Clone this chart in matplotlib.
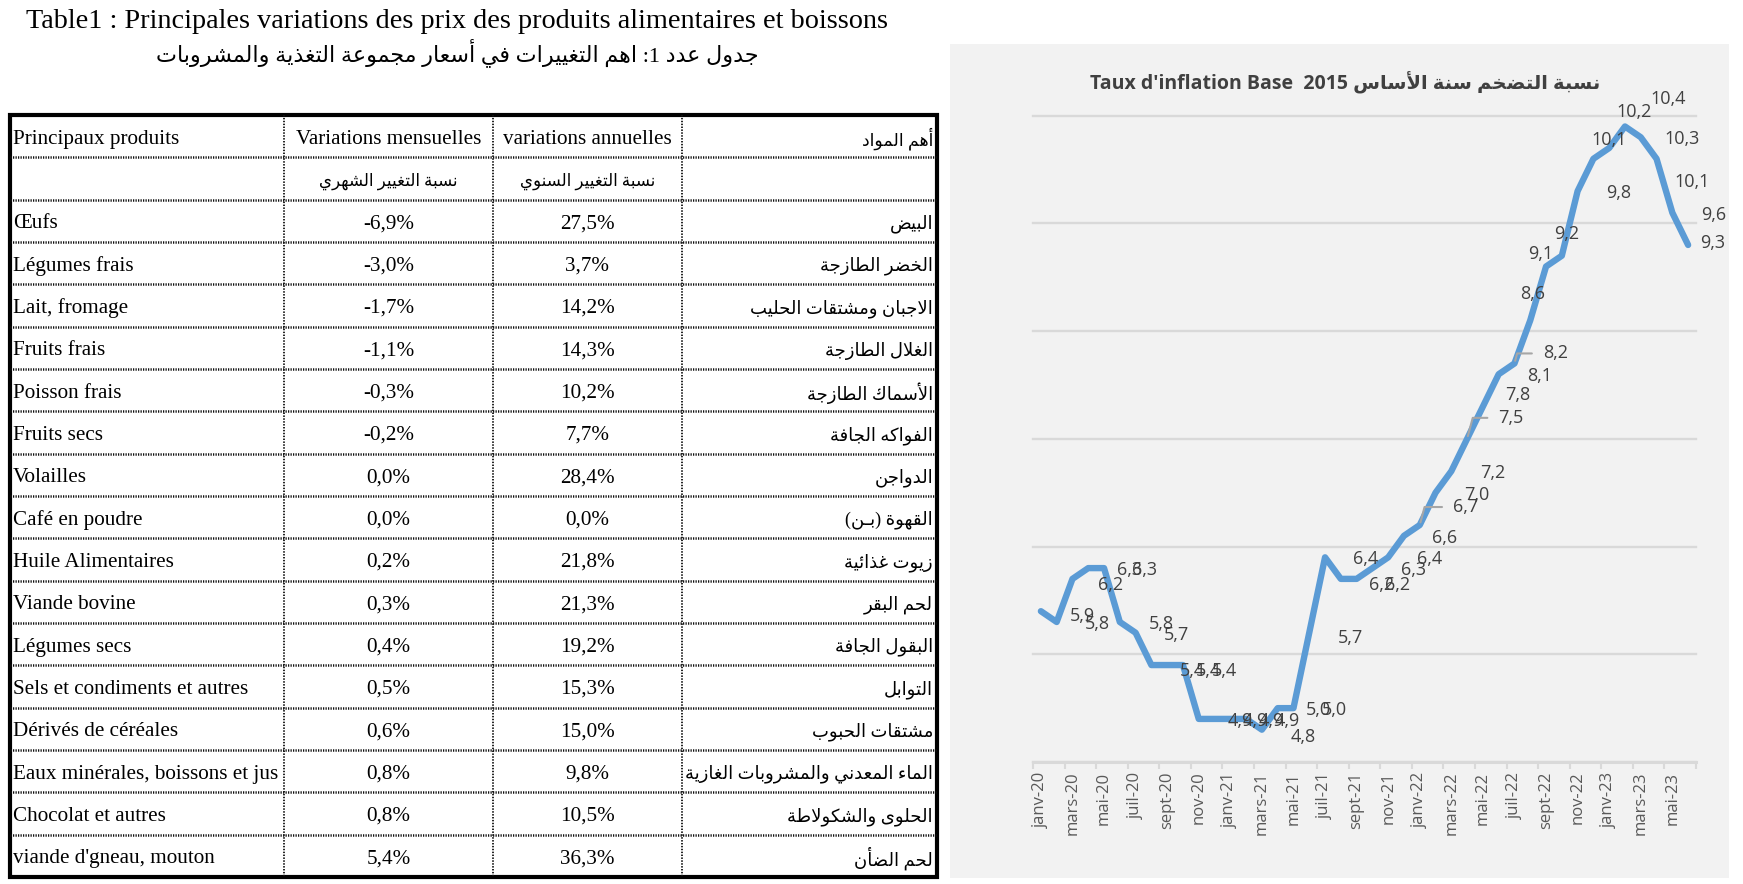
import re
import matplotlib
matplotlib.use("Agg")
import matplotlib.pyplot as plt
from matplotlib.patches import Rectangle

# ---------------- data ----------------
months = ["janv-20", "févr-20", "mars-20", "avr-20", "mai-20", "juin-20",
          "juil-20", "août-20", "sept-20", "oct-20", "nov-20", "déc-20",
          "janv-21", "févr-21", "mars-21", "avr-21", "mai-21", "juin-21",
          "juil-21", "août-21", "sept-21", "oct-21", "nov-21", "déc-21",
          "janv-22", "févr-22", "mars-22", "avr-22", "mai-22", "juin-22",
          "juil-22", "août-22", "sept-22", "oct-22", "nov-22", "déc-22",
          "janv-23", "févr-23", "mars-23", "avr-23", "mai-23", "juin-23"]
inflation = [5.9, 5.8, 6.2, 6.3, 6.3, 5.8, 5.7, 5.4, 5.4, 5.4, 4.9, 4.9,
             4.9, 4.9, 4.8, 5.0, 5.0, 5.7, 6.4, 6.2, 6.2, 6.3, 6.4, 6.6,
             6.7, 7.0, 7.2, 7.5, 7.8, 8.1, 8.2, 8.6, 9.1, 9.2, 9.8, 10.1,
             10.2, 10.4, 10.3, 10.1, 9.6, 9.3]

products_fr = ["Œufs", "Légumes frais", "Lait, fromage", "Fruits frais",
               "Poisson frais", "Fruits secs", "Volailles", "Café en poudre",
               "Huile Alimentaires", "Viande bovine", "Légumes secs",
               "Sels et condiments et autres", "Dérivés de céréales",
               "Eaux minérales, boissons et jus", "Chocolat et autres",
               "viande d'gneau, mouton"]
products_ar = ["البيض", "الخضر الطازجة", "الاجبان ومشتقات الحليب", "الغلال الطازجة",
               "الأسماك الطازجة", "الفواكه الجافة", "الدواجن", "القهوة (بـن)",
               "زيوت غذائية", "لحم البقر", "البقول الجافة", "التوابل",
               "مشتقات الحبوب", "الماء المعدني والمشروبات الغازية",
               "الحلوى والشكولاطة", "لحم الضأن"]
var_mensuelle = [-6.9, -3.0, -1.7, -1.1, -0.3, -0.2, 0.0, 0.0, 0.2, 0.3,
                 0.4, 0.5, 0.6, 0.8, 0.8, 5.4]
var_annuelle = [27.5, 3.7, 14.2, 14.3, 10.2, 7.7, 28.4, 0.0, 21.8, 21.3,
                19.2, 15.3, 15.0, 9.8, 10.5, 36.3]

title_fr = "Table1 : Principales variations des prix des produits alimentaires et boissons"
title_ar = "جدول عدد 1: اهم التغييرات في أسعار مجموعة التغذية والمشروبات"
head_fr = ["Principaux produits", "Variations mensuelles", "variations annuelles"]
head_ar = ["أهم المواد", "نسبة التغيير الشهري", "نسبة التغيير السنوي"]
chart_title_fr = "Taux d'inflation Base  2015 "
chart_title_ar = "نسبة التضخم سنة الأساس"

# label offsets (pixels) where Excel moved the data labels
label_offsets = {0: (41, -5), 2: (38, -6), 7: (41, -6), 8: (41, -6), 9: (41, -6),
                 14: (41, -7), 17: (41, -5), 19: (41, -6), 20: (41, -6),
                 24: (46, 18), 27: (44, 21), 28: (35, 12), 30: (41, 10),
                 31: (2, 26), 32: (-5, 13), 33: (5, 22), 35: (16, 19),
                 36: (25, 36), 37: (43, 27), 39: (36, -23), 41: (25, 2)}
leader_idx = [24, 27, 30]

# ---------------- arabic shaping (no bidi lib available) ----------------
_codes = list(range(0x621, 0x63B)) + list(range(0x641, 0x64B))
_nforms = [1, 2, 2, 2, 2, 4, 2, 4, 2, 4, 4, 4, 4, 4, 2, 2, 2, 2, 4, 4, 4, 4,
           4, 4, 4, 4, 4, 4, 4, 4, 4, 4, 4, 2, 2, 4]
FORMS = {}
_start = 0xFE80
for c, n in zip(_codes, _nforms):
    FORMS[chr(c)] = (_start, n)
    _start += n
TATWEEL = "\u0640"
LAM_ALEF = {"\u0622": 0xFEF5, "\u0623": 0xFEF7, "\u0625": 0xFEF9, "\u0627": 0xFEFB}


def joins_forward(ch):
    return ch == TATWEEL or (ch in FORMS and FORMS[ch][1] == 4)


def joins_back(ch):
    return ch == TATWEEL or (ch in FORMS and FORMS[ch][1] >= 2)


def ar(text):
    out = []
    i = 0
    while i < len(text):
        ch = text[i]
        prev = text[i - 1] if i > 0 else ""
        nxt = text[i + 1] if i + 1 < len(text) else ""
        linked = joins_forward(prev) and joins_back(ch)
        if ch == "\u0644" and nxt in LAM_ALEF:
            out.append(chr(LAM_ALEF[nxt] + (1 if linked else 0)))
            i += 2
            continue
        if ch in FORMS:
            base, k = FORMS[ch]
            nxt_link = joins_forward(ch) and joins_back(nxt)
            if k == 1:
                form = 0
            elif linked and nxt_link:
                form = 3
            elif linked:
                form = 1
            elif nxt_link:
                form = 2
            else:
                form = 0
            out.append(chr(base + form))
        else:
            out.append(ch)
        i += 1
    s = "".join(out)[::-1]
    s = s.translate(str.maketrans("()", ")("))
    return re.sub(r"[0-9]+", lambda m: m.group(0)[::-1], s)


def pct(v):
    return f"{v:.1f}%".replace(".", ",")


# ---------------- figure ----------------
W, H = 1743, 884
fig = plt.figure(figsize=(W / 100, H / 100), dpi=100)
fig.patch.set_facecolor("white")

base = fig.add_axes([0, 0, 1, 1])
base.set_xlim(0, W)
base.set_ylim(H, 0)
base.axis("off")

serif = ["Liberation Serif", "DejaVu Sans"]
sans = ["Open Sans", "DejaVu Sans"]

# chart panel background
base.add_patch(Rectangle((950, 44), 779, 834, facecolor="#F2F2F2", edgecolor="none"))

# table titles
base.text(457, 22, title_fr, ha="center", va="center", fontsize=20.3, family=serif)
base.text(457, 53, ar(title_ar), ha="center", va="center", fontsize=16, family=serif)

# table grid
col_x = [10, 284, 493, 682, 937]
top, row_h = 115, 42.33
n_rows = len(products_fr) + 2
bottom = top + n_rows * row_h
for k in range(1, n_rows):
    y = top + k * row_h
    base.plot([col_x[0], col_x[-1]], [y, y], color="#111111", lw=1.8,
              ls=(0, (0.5, 0.5)))
for x in col_x[1:-1]:
    base.plot([x, x], [top, bottom], color="#111111", lw=1.3, ls=(0, (0.8, 0.8)))
base.add_patch(Rectangle((col_x[0], top), col_x[-1] - col_x[0], bottom - top,
                         fill=False, edgecolor="black", lw=3))

c2 = (col_x[1] + col_x[2]) / 2
c3 = (col_x[2] + col_x[3]) / 2
fs = 15.2
fs_ar = 13
dy = 3
y0 = top + row_h / 2 + dy
base.text(13, y0, head_fr[0], ha="left", va="center", fontsize=fs, family=serif)
base.text(c2, y0, head_fr[1], ha="center", va="center", fontsize=fs, family=serif)
base.text(c3, y0, head_fr[2], ha="center", va="center", fontsize=fs, family=serif)
base.text(933, y0, ar(head_ar[0]), ha="right", va="center", fontsize=12.5, family=serif)
y1 = top + 1.5 * row_h + dy
base.text(c2, y1, ar(head_ar[1]), ha="center", va="center", fontsize=12, family=serif)
base.text(c3, y1, ar(head_ar[2]), ha="center", va="center", fontsize=12, family=serif)

for i, (fr, a, vm, va_) in enumerate(zip(products_fr, products_ar,
                                         var_mensuelle, var_annuelle)):
    y = top + (i + 2.5) * row_h + dy
    base.text(13, y, fr, ha="left", va="center", fontsize=fs, family=serif)
    base.text(c2, y, pct(vm), ha="center", va="center", fontsize=fs, family=serif)
    base.text(c3, y, pct(va_), ha="center", va="center", fontsize=fs, family=serif)
    base.text(933, y, ar(a), ha="right", va="center", fontsize=fs_ar, family=serif)

# chart title
base.text(1345, 83, chart_title_fr + ar(chart_title_ar), ha="center", va="center",
          fontsize=14, weight="bold", color="#404040", family=sans)

# ---------------- line chart ----------------
ax = fig.add_axes([1033 / W, 1 - 762 / H, (1696 - 1033) / W, (762 - 115.7) / H])
ax.patch.set_alpha(0)
xs = list(range(len(inflation)))
ax.plot(xs, inflation, color="#5B9BD5", lw=4.6, solid_joinstyle="round",
        solid_capstyle="round", zorder=3)
ax.set_xlim(-0.5, len(inflation) - 0.5)
ax.set_ylim(4.5, 10.5)

ax.set_yticks([4.5 + k for k in range(7)])
ax.tick_params(axis="y", length=0, labelleft=False)
ax.grid(axis="y", color="#D9D9D9", lw=1.7)
for gl in ax.get_ygridlines():
    gl.set_clip_on(False)
for s in ["top", "left", "right"]:
    ax.spines[s].set_visible(False)
ax.spines["bottom"].set_color("#D9D9D9")
ax.spines["bottom"].set_linewidth(2.2)

ax.set_xticks(xs[::2])
ax.set_xticklabels(months[::2], rotation=90, fontsize=12, color="#595959",
                   family=sans)
ax.set_xticks([k - 0.5 for k in range(0, len(inflation) + 1, 2)], minor=True)
ax.tick_params(axis="x", which="major", length=0, pad=7)
ax.tick_params(axis="x", which="minor", length=5, width=1.5, color="#D9D9D9")

for i, v in enumerate(inflation):
    dx, dy_ = label_offsets.get(i, (41, -2))
    txt = f"{v:.1f}".replace(".", ",")
    if i in leader_idx:
        ax.annotate(txt, (i, v), xytext=(dx, dy_),
                    textcoords="offset pixels", ha="center", va="center",
                    fontsize=13, color="#404040", family=sans,
                    arrowprops=dict(arrowstyle="-", color="#A6A6A6", lw=1.5,
                                    connectionstyle="angle,angleA=0,angleB=75,rad=0",
                                    relpos=(0, 0.5), shrinkA=6, shrinkB=2))
    else:
        ax.annotate(txt, (i, v), xytext=(dx, dy_),
                    textcoords="offset pixels", ha="center", va="center",
                    fontsize=13, color="#404040", family=sans)

fig.savefig("out.png", dpi=100)
